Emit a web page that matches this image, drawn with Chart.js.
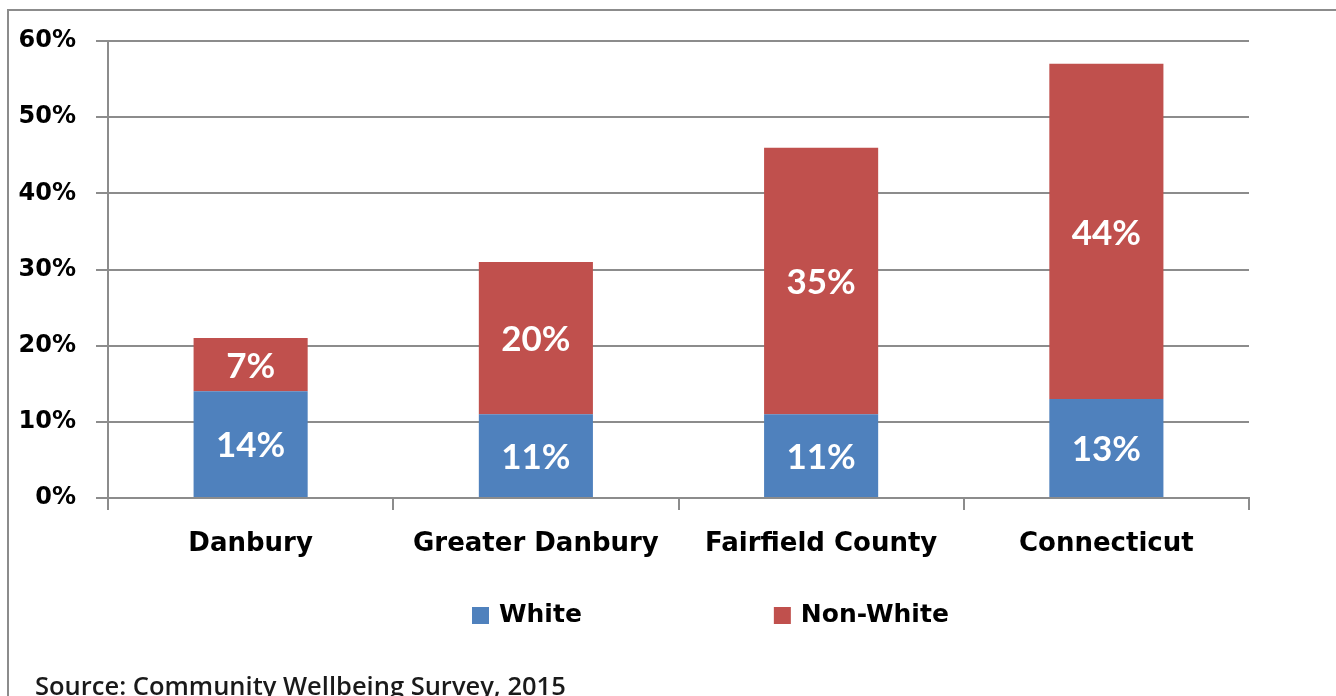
<!DOCTYPE html>
<html>
<head>
<meta charset="utf-8">
<script src="https://cdn.jsdelivr.net/npm/chart.js@4"></script>
<style>
  html, body { margin: 0; padding: 0; background: #fff; overflow: hidden; }
  #wrap { width: 1336px; height: 696px; position: relative; }
</style>
</head>
<body>
<div id="wrap"><canvas id="chart" width="1336" height="696"></canvas></div>
<script>
const categories = ['Danbury', 'Greater Danbury', 'Fairfield County', 'Connecticut'];
const whiteShare = [14, 11, 11, 13];
const nonWhiteShare = [7, 20, 35, 44];
const seriesNames = ['White', 'Non-White'];
const yTicks = [0, 10, 20, 30, 40, 50, 60];
const sourceNote = 'Source: Community Wellbeing Survey, 2015';

const AXIS_FONT = "'DejaVu Sans', sans-serif";
const LABEL_FONT = "Lato, 'Open Sans', sans-serif";

// frame around the whole chart, the legend row and the source line
const framePlugin = {
  id: 'frame',
  beforeDraw(chart) {
    const ctx = chart.ctx;
    ctx.save();
    ctx.fillStyle = '#fff';
    ctx.fillRect(0, 0, chart.width, chart.height);
    ctx.strokeStyle = '#8c8c8c';
    ctx.lineWidth = 2;
    ctx.strokeRect(8, 10, chart.width + 20, chart.height + 20);
    ctx.restore();
  },
  afterDraw(chart) {
    const ctx = chart.ctx;
    ctx.save();

    // legend row: square swatch, small gap, name, then a wide gap to the next entry
    ctx.font = "bold 25px " + AXIS_FONT;
    ctx.textBaseline = 'middle';
    ctx.textAlign = 'left';
    let x = 472;
    const y = 615;
    chart.data.datasets.forEach(ds => {
      ctx.fillStyle = ds.backgroundColor;
      ctx.fillRect(x, y - 8, 17, 17);
      x += 27;
      ctx.fillStyle = '#000';
      ctx.fillText(ds.label, x, y);
      x += ctx.measureText(ds.label).width + 192;
    });

    ctx.fillStyle = '#1a1a1a';
    ctx.font = "600 25.5px 'Open Sans', sans-serif";
    ctx.textBaseline = 'alphabetic';
    ctx.fillText(sourceNote, 35, 695);
    ctx.restore();
  }
};

// value labels centred in each bar segment
const valueLabels = {
  id: 'valueLabels',
  afterDatasetsDraw(chart) {
    const ctx = chart.ctx;
    ctx.save();
    ctx.fillStyle = '#fff';
    ctx.font = "bold 35px " + LABEL_FONT;
    ctx.textAlign = 'center';
    ctx.textBaseline = 'middle';
    chart.data.datasets.forEach((ds, i) => {
      chart.getDatasetMeta(i).data.forEach((bar, j) => {
        const mid = (bar.y + bar.base) / 2;
        ctx.fillText(ds.data[j] + '%', bar.x, mid + 2);
      });
    });
    ctx.restore();
  }
};

new Chart(document.getElementById('chart'), {
  type: 'bar',
  data: {
    labels: categories,
    datasets: [
      { label: seriesNames[0], data: whiteShare, backgroundColor: '#4f81bd' },
      { label: seriesNames[1], data: nonWhiteShare, backgroundColor: '#c0504d' }
    ]
  },
  options: {
    responsive: false,
    animation: false,
    layout: { padding: { left: 0, top: 41, right: 87, bottom: 116 } },
    datasets: { bar: { categoryPercentage: 0.4, barPercentage: 1.0 } },
    scales: {
      x: {
        stacked: true,
        grid: { display: true, drawOnChartArea: false, drawTicks: true, tickLength: 12, offset: true, color: '#8c8c8c', lineWidth: 2 },
        border: { color: '#8c8c8c', width: 2 },
        ticks: { color: '#000', font: { family: AXIS_FONT, size: 26, weight: 'bold' }, padding: 19 },
        afterFit(scale) { scale.height = 82; }
      },
      y: {
        stacked: true,
        min: 0,
        max: 60,
        afterBuildTicks(scale) { scale.ticks = yTicks.map(v => ({ value: v })); },
        grid: { color: '#8c8c8c', lineWidth: 2, tickLength: 12 },
        border: { color: '#8c8c8c', width: 2 },
        ticks: {
          color: '#000',
          font: { family: AXIS_FONT, size: 24, weight: 'bold' },
          padding: 20,
          callback: v => v + '%'
        },
        afterFit(scale) { scale.width = 108; }
      }
    },
    plugins: {
      legend: { display: false },
      tooltip: { enabled: false }
    }
  },
  plugins: [framePlugin, valueLabels]
});
</script>
</body>
</html>
